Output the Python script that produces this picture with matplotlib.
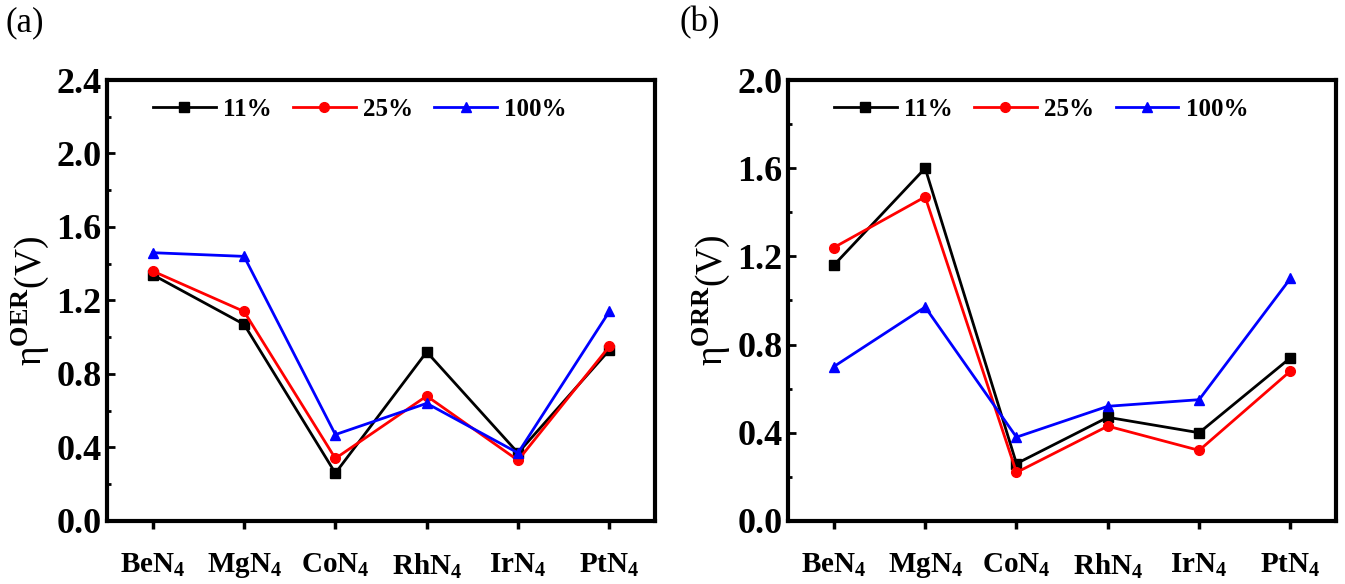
import matplotlib
matplotlib.use("Agg")
import matplotlib.pyplot as plt
from matplotlib.ticker import MultipleLocator

plt.rcParams["font.family"] = ["Liberation Serif", "DejaVu Serif"]
plt.rcParams["font.weight"] = "bold"
plt.rcParams["mathtext.fontset"] = "custom"
plt.rcParams["mathtext.rm"] = "Liberation Serif:bold"
plt.rcParams["mathtext.bf"] = "Liberation Serif:bold"
plt.rcParams["mathtext.it"] = "Liberation Serif:bold:italic"

# data
catalysts = ["BeN$_4$", "MgN$_4$", "CoN$_4$", "RhN$_4$", "IrN$_4$", "PtN$_4$"]
series = ["11%", "25%", "100%"]

oer_11 = [1.34, 1.07, 0.26, 0.92, 0.37, 0.93]
oer_25 = [1.36, 1.14, 0.34, 0.68, 0.33, 0.95]
oer_100 = [1.46, 1.44, 0.47, 0.64, 0.37, 1.14]

orr_11 = [1.16, 1.60, 0.26, 0.47, 0.40, 0.74]
orr_25 = [1.24, 1.47, 0.22, 0.43, 0.32, 0.68]
orr_100 = [0.70, 0.97, 0.38, 0.52, 0.55, 1.10]

colors = ["black", "red", "blue"]
markers = ["s", "o", "^"]

fig = plt.figure(figsize=(13.45, 5.84), dpi=100)
ax1 = fig.add_axes([0.0796, 0.108, 0.4074, 0.755])
ax2 = fig.add_axes([0.586, 0.108, 0.4074, 0.755])

x = list(range(len(catalysts)))


def draw(ax, data, ymax, ylab):
    for vals, c, m, lab in zip(data, colors, markers, series):
        ax.plot(x, vals, color=c, marker=m, markersize=7, linewidth=2, label=lab)
    ax.set_xlim(-0.5, 5.5)
    ax.set_ylim(0, ymax)
    ax.yaxis.set_major_locator(MultipleLocator(0.4))
    ax.yaxis.set_minor_locator(MultipleLocator(0.2))
    ax.set_xticks(x)
    ax.set_xticklabels(catalysts, fontsize=21)
    ax.tick_params(axis="y", which="major", direction="in", length=6, width=2,
                   labelsize=26, pad=4)
    ax.tick_params(axis="y", which="minor", direction="in", length=3, width=2)
    ax.tick_params(axis="x", direction="out", length=6, width=2.5, pad=16)
    for s in ax.spines.values():
        s.set_linewidth(3)
    ax.set_ylabel(ylab, fontsize=27, labelpad=4)
    ax.legend(loc="center left", ncol=3, frameon=False, fontsize=18,
              bbox_to_anchor=(0.084, 0.933), borderpad=0, borderaxespad=0,
              handlelength=2.5, columnspacing=0.85, handletextpad=0.3)


draw(ax1, [oer_11, oer_25, oer_100], 2.4, "η$^{\\mathrm{OER}}$(V)")
draw(ax2, [orr_11, orr_25, orr_100], 2.0, "η$^{\\mathrm{ORR}}$(V)")

fig.text(0.004, 0.99, "(a)", fontsize=25, fontweight="normal", va="top", ha="left")
fig.text(0.505, 0.99, "(b)", fontsize=25, fontweight="normal", va="top", ha="left")

fig.savefig("out.png", dpi=100)
